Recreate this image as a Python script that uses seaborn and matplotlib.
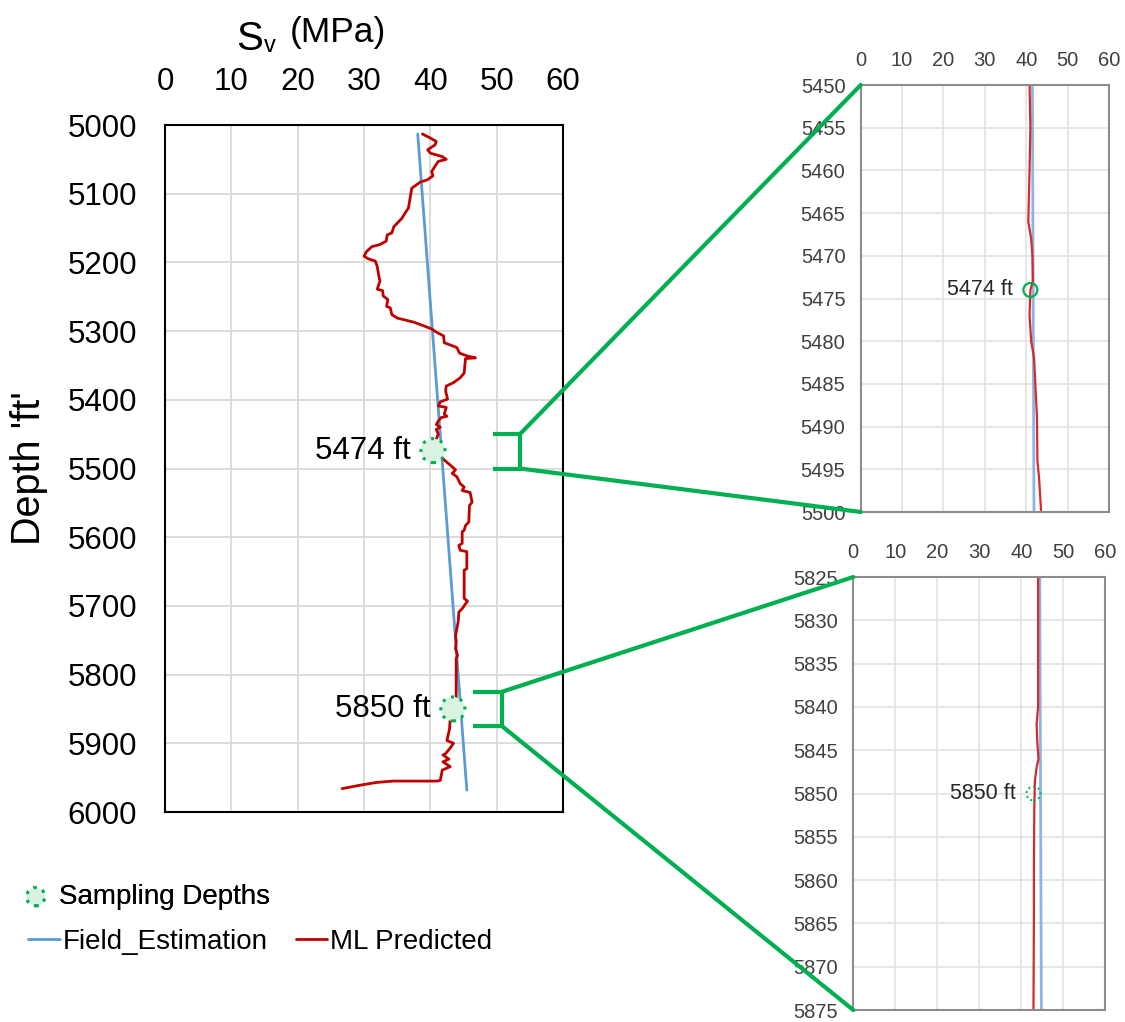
import numpy as np
import pandas as pd
import matplotlib
matplotlib.use("Agg")
import matplotlib.pyplot as plt
from matplotlib.patches import ConnectionPatch
import seaborn as sns

# ---------------- data ----------------
ML_DEPTH = [5013, 5019, 5024, 5029, 5036, 5041, 5046, 5050, 5053, 5060, 5068, 5074, 5080, 5083,
            5090, 5092, 5104, 5121, 5128, 5136, 5143, 5148, 5157, 5160, 5169, 5174, 5177, 5184,
            5191, 5195, 5198, 5206, 5218, 5227, 5239, 5241, 5249, 5254, 5264, 5266, 5276, 5281,
            5287, 5293, 5297, 5302, 5307, 5317, 5322, 5324, 5332, 5336, 5339, 5340, 5361, 5368,
            5375, 5380, 5387, 5399, 5403, 5409, 5411, 5421, 5424, 5426, 5431, 5436, 5440, 5443,
            5450, 5457, 5465, 5470, 5472, 5477, 5484, 5491, 5495, 5502, 5507, 5512, 5522, 5527,
            5532, 5535, 5549, 5554, 5578, 5583, 5590, 5592, 5609, 5612, 5619, 5621, 5646, 5648,
            5689, 5693, 5704, 5709, 5723, 5743, 5752, 5762, 5772, 5777, 5837, 5845, 5854, 5864,
            5879, 5896, 5900, 5908, 5915, 5917, 5923, 5927, 5934, 5939, 5954, 5955, 5955, 5957,
            5961, 5966]
ML_SV = [38.8, 40.0, 40.9, 40.7, 39.6, 40.0, 41.8, 42.4, 41.2, 40.7, 40.2, 40.4, 39.5, 38.5,
         37.5, 37.2, 37.0, 36.7, 36.2, 35.7, 35.0, 34.5, 34.2, 33.5, 33.35, 32.4, 31.2, 30.4,
         30.0, 30.7, 31.7, 32.0, 32.2, 32.4, 32.0, 32.8, 32.9, 33.6, 33.4, 33.95, 34.2, 35.0,
         37.5, 39.2, 40.2, 41.0, 42.0, 42.1, 43.5, 44.0, 44.4, 45.5, 46.8, 45.3, 45.1, 44.5,
         43.5, 42.4, 42.3, 42.6, 41.5, 41.2, 42.4, 42.1, 42.5, 41.6, 41.2, 40.9, 41.5, 40.9,
         41.2, 40.9, 40.7, 41.2, 40.5, 41.5, 41.7, 42.5, 43.0, 43.8, 43.3, 44.0, 44.5, 45.1,
         44.8, 46.0, 46.3, 45.9, 45.8, 45.3, 45.1, 44.8, 44.8, 44.3, 44.5, 45.5, 45.5, 45.1,
         45.1, 45.6, 44.8, 44.3, 44.2, 43.8, 43.9, 43.8, 44.1, 43.9, 43.9, 43.4, 43.1, 43.0,
         42.9, 42.5, 43.5, 42.9, 42.3, 41.9, 42.8, 41.9, 43.0, 41.8, 41.5, 41.0, 34.4, 31.9,
         29.4, 26.7]

FIELD_DEPTH = [5013, 5968]
FIELD_SV = [38.1, 45.5]

ZOOM1_DEPTH = [5450, 5455, 5460, 5466, 5468, 5470, 5473, 5474, 5477, 5480, 5482, 5485, 5489,
               5494, 5496, 5500]
ZOOM1_SV = [40.8, 41.0, 40.8, 40.5, 41.2, 41.5, 41.6, 41.0, 40.8, 41.2, 41.9, 42.2, 42.6,
            42.7, 43.1, 43.6]
ZOOM2_DEPTH = [5825, 5840, 5842, 5844, 5846, 5847, 5848.5, 5851.5, 5859, 5864, 5875]
ZOOM2_SV = [44.0, 44.0, 43.65, 43.8, 44.1, 43.65, 43.25, 43.1, 43.0, 43.0, 42.9]

SAMPLE_DEPTHS = [5474, 5850]
SAMPLE_SV_MAIN = [40.4, 43.4]
SAMPLE_SV_ZOOM = [41.0, 42.9]
SAMPLE_LABELS = ["5474 ft", "5850 ft"]

ZOOM1_RANGE = (5450, 5500)
ZOOM2_RANGE = (5825, 5875)

X_TICKS = [0, 10, 20, 30, 40, 50, 60]
MAIN_Y_TICKS = list(range(5000, 6001, 100))

# ---------------- style ----------------
sns.set_theme(style="white")
plt.rcParams['font.family'] = ['Liberation Sans', 'DejaVu Sans']
plt.rcParams['text.color'] = 'black'

RED = "#C00000"
BLUE = "#5B9BD5"
GREEN = "#00B050"
FILL = "#d9f2e1"
GRID = "#d9d9d9"

W, H = 1125, 1022
fig = plt.figure(figsize=(W / 100, H / 100), dpi=100)


def fbox(l, t, r, b):
    return [l / W, 1 - b / H, (r - l) / W, (b - t) / H]


ax = fig.add_axes(fbox(165, 125, 563, 812))
ax1 = fig.add_axes(fbox(860.7, 85, 1109, 512))
ax2 = fig.add_axes(fbox(853.3, 577, 1105.3, 1010))

# ---------------- main panel ----------------
main_df = pd.DataFrame({"sv": ML_SV, "depth": ML_DEPTH})
field_df = pd.DataFrame({"sv": FIELD_SV, "depth": FIELD_DEPTH})
sns.lineplot(data=field_df, x="sv", y="depth", sort=False, estimator=None, ax=ax,
             color=BLUE, lw=2.0, legend=False)
field_line = ax.lines[-1]
sns.lineplot(data=main_df, x="sv", y="depth", sort=False, estimator=None, ax=ax,
             color=RED, lw=2.0, legend=False)
ml_line = ax.lines[-1]
sns.scatterplot(x=SAMPLE_SV_MAIN, y=SAMPLE_DEPTHS, ax=ax, s=300, facecolor=FILL,
                edgecolor=GREEN, linewidth=2.2, linestyle=(0, (1.0, 2.0)), zorder=5,
                legend=False)
samp_coll = ax.collections[-1]
for sv, d, lab in zip(SAMPLE_SV_MAIN, SAMPLE_DEPTHS, SAMPLE_LABELS):
    ax.text(sv - 3.3, d, lab, ha="right", va="center", fontsize=22.5, color="black")

ax.set_xlim(0, 60)
ax.set_ylim(6000, 5000)
ax.set_xticks(X_TICKS)
ax.set_yticks(MAIN_Y_TICKS)
ax.xaxis.tick_top()
ax.tick_params(axis="both", length=0, labelsize=22.5, pad=20, colors="black")
ax.grid(True, color=GRID, lw=1.3)
ax.set_xlabel("")
ax.set_ylabel("Depth 'ft'", fontsize=28.5, labelpad=14, color="black")
for sp in ax.spines.values():
    sp.set_color("black")
    sp.set_linewidth(1.5)

# brackets
for rng, (x0, x1) in zip([ZOOM1_RANGE, ZOOM2_RANGE], [(49.4, 53.5), (46.4, 50.8)]):
    ax.plot([x0, x1, x1, x0], [rng[0], rng[0], rng[1], rng[1]], color=GREEN, lw=3,
            solid_capstyle="butt", zorder=6, clip_on=False)

# ---------------- insets ----------------
for axi, dep, sv, rng, ssv, sd, lab, dotted in [
        (ax1, ZOOM1_DEPTH, ZOOM1_SV, ZOOM1_RANGE, SAMPLE_SV_ZOOM[0], SAMPLE_DEPTHS[0],
         SAMPLE_LABELS[0], False),
        (ax2, ZOOM2_DEPTH, ZOOM2_SV, ZOOM2_RANGE, SAMPLE_SV_ZOOM[1], SAMPLE_DEPTHS[1],
         SAMPLE_LABELS[1], True)]:
    sns.lineplot(data=field_df, x="sv", y="depth", sort=False, estimator=None, ax=axi,
                 color="#8DB4E2", lw=2.0, legend=False)
    zdf = pd.DataFrame({"sv": sv, "depth": dep})
    sns.lineplot(data=zdf, x="sv", y="depth", sort=False, estimator=None, ax=axi,
                 color="#D42A2A", lw=1.6, legend=False)
    sns.scatterplot(x=[ssv], y=[sd], ax=axi, s=100, facecolor="none", edgecolor=GREEN,
                    linewidth=1.6 if not dotted else 1.4,
                    linestyle=(0, (1.0, 1.6)) if dotted else "-", zorder=5, legend=False)
    axi.text(ssv - 4.2, sd, lab, ha="right", va="center", fontsize=15.5, color="#262626")
    axi.set_xlim(0, 60)
    axi.set_ylim(rng[1], rng[0])
    axi.set_xticks(X_TICKS)
    axi.set_yticks(list(range(rng[0], rng[1] + 1, 5)))
    axi.xaxis.tick_top()
    axi.tick_params(axis="both", length=0, labelsize=14.5, pad=11, colors="#404040")
    axi.grid(True, color="#e3e3e3", lw=1.2)
    axi.set_xlabel("")
    axi.set_ylabel("")
    for sp in axi.spines.values():
        sp.set_color("#8c8c8c")
        sp.set_linewidth(1.5)

# connector lines
for axi, rng, x1 in [(ax1, ZOOM1_RANGE, 53.5), (ax2, ZOOM2_RANGE, 50.8)]:
    for d in rng:
        con = ConnectionPatch(xyA=(x1, d), coordsA=ax.transData, xyB=(0, d),
                              coordsB=axi.transData, color=GREEN, lw=3, zorder=10)
        fig.add_artist(con)

# title
fig.text(236 / W, 1 - 50 / H, "S", fontsize=29, ha="left", va="baseline", color="black")
fig.text(264 / W, 1 - 52 / H, "v", fontsize=17, ha="left", va="baseline", color="black")
fig.text(290 / W, 1 - 42 / H, "(MPa)", fontsize=25.5, ha="left", va="baseline", color="black")

# legends
leg1 = fig.legend([samp_coll], ["Sampling Depths"], loc="center left",
                  bbox_to_anchor=(26 / W, 1 - 897 / H), frameon=False, fontsize=20,
                  handlelength=0.7, handletextpad=0.5, borderpad=0, borderaxespad=0,
                  markerscale=0.75, labelcolor="black")
fig.legend([field_line, ml_line], ["Field_Estimation", "ML Predicted"], loc="center left",
           bbox_to_anchor=(28 / W, 1 - 942 / H), frameon=False, fontsize=20, ncol=2,
           handlelength=1.15, handletextpad=0.1, columnspacing=1.0, borderpad=0,
           borderaxespad=0, labelcolor="black")
fig.add_artist(leg1)

fig.savefig("out.png", dpi=100)
